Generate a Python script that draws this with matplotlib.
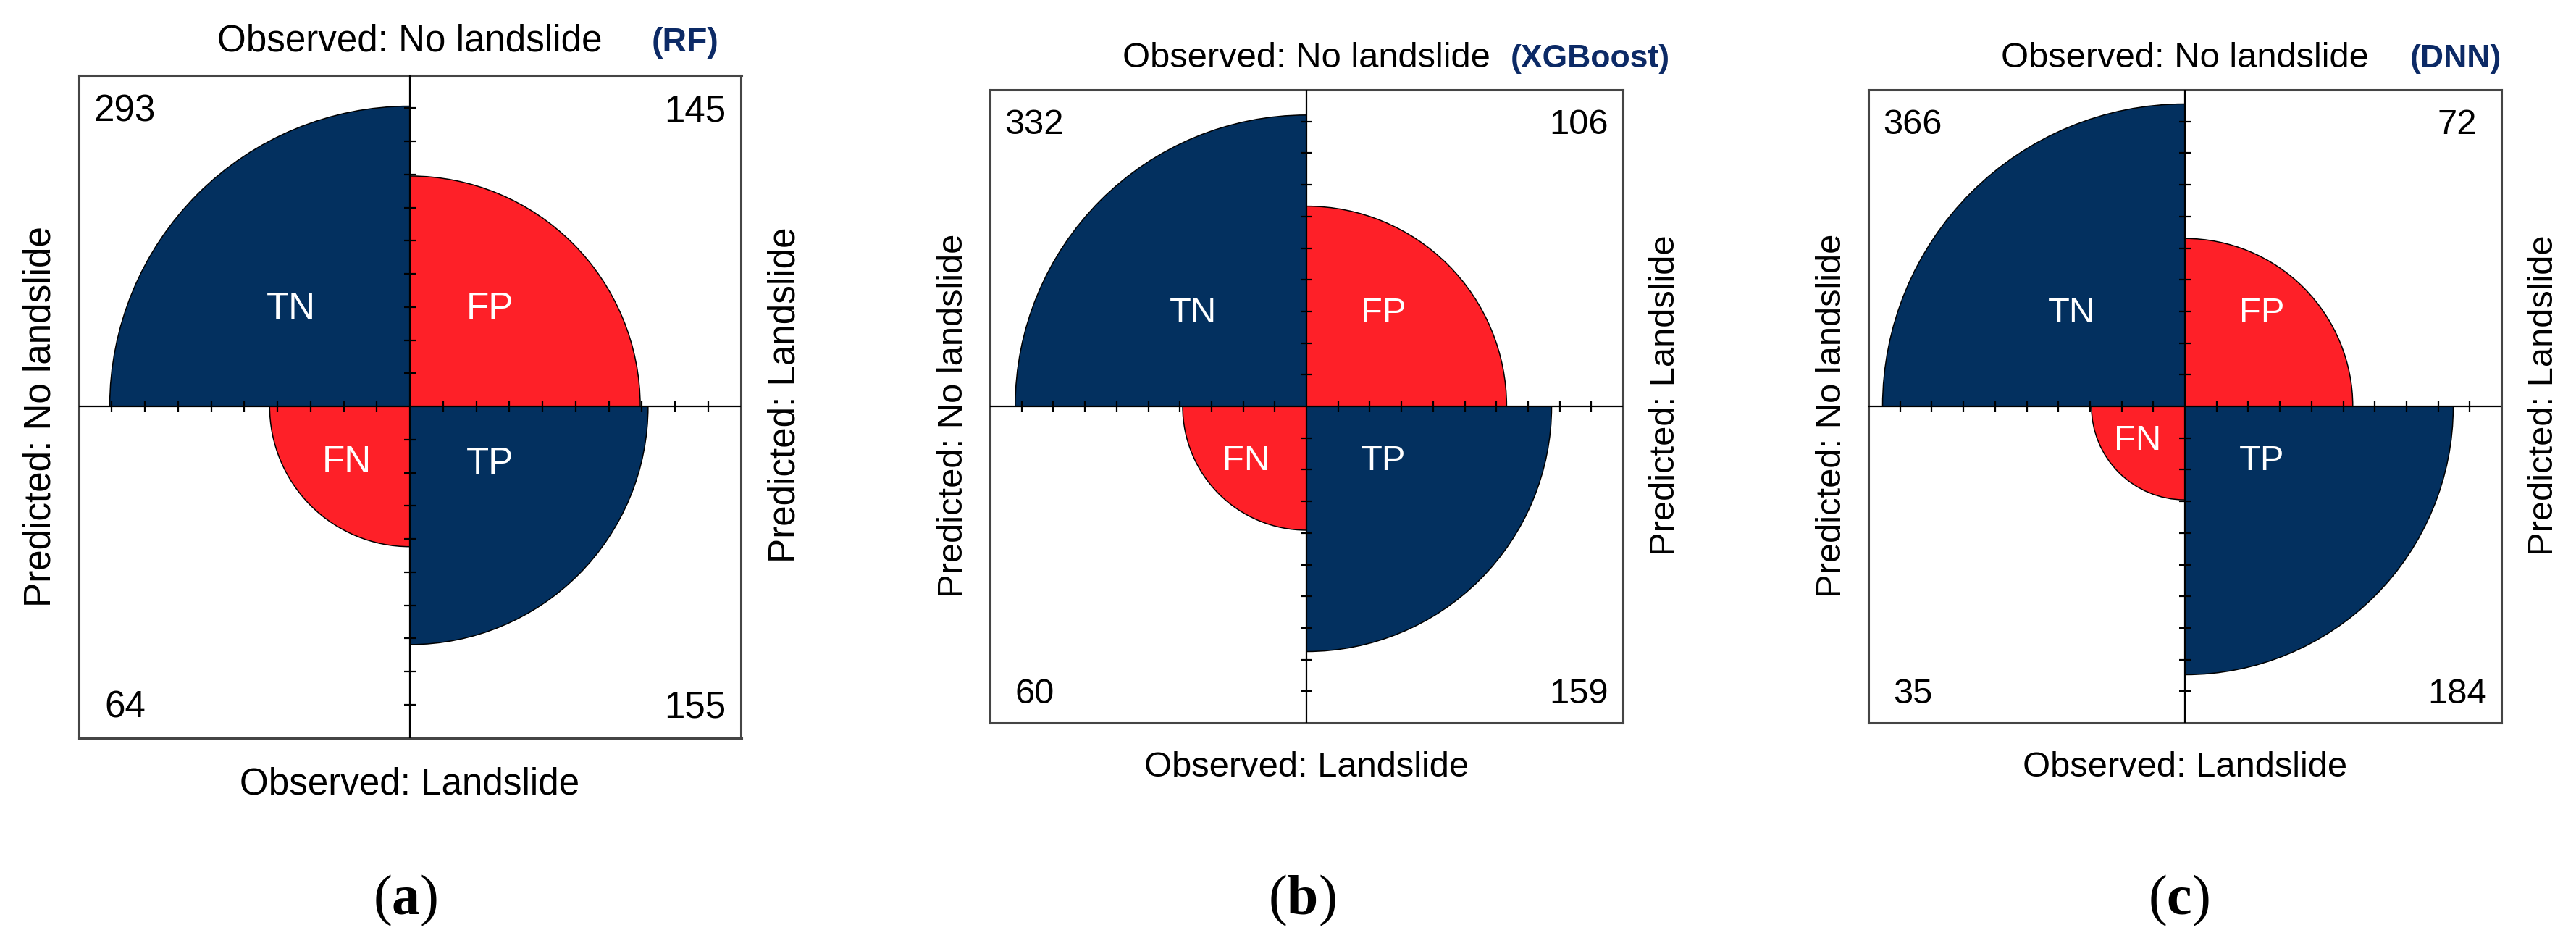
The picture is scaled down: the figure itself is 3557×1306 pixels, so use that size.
import numpy as np
import matplotlib.pyplot as plt
from matplotlib.patches import Wedge

plt.rcParams['font.family'] = ['Liberation Sans', 'DejaVu Sans']
plt.rcParams['mathtext.fontset'] = 'custom'
plt.rcParams['mathtext.rm'] = 'Liberation Serif'
plt.rcParams['mathtext.bf'] = 'Liberation Serif:bold'

# confusion matrix counts for each model
models = ["RF", "XGBoost", "DNN"]
tags = ["a", "b", "c"]
tn = [293, 332, 366]
fp = [145, 106, 72]
fn = [64, 60, 35]
tp = [155, 159, 184]

NAVY = "#03305F"
RED = "#FE2028"
TAG_BLUE = "#0C2A66"

W, H = 3557, 1306
fig = plt.figure(figsize=(W / 100, H / 100), dpi=100)

# panel box centre / half size in pixels
boxes = [(566, 561, 457.5), (1804, 561, 437), (3017, 561, 437)]
model_x = [7.3, 6.44, 7.1]
fn_pos = [(-1.9, -1.7), (-1.9, -1.73), (-1.5, -1.08)]
tag_x = [560, 1798, 3008]

k = np.arange(1, 10)
tick_pos = np.concatenate([-k, k])

for i in range(3):
    cx, cy, half = boxes[i]
    ax = fig.add_axes([(cx - half) / W, 1 - (cy + half) / H, 2 * half / W, 2 * half / H])
    ax.set_xlim(-10, 10)
    ax.set_ylim(-10, 10)
    ax.set_xticks([])
    ax.set_yticks([])
    for s in ax.spines.values():
        s.set_color("#454545")
        s.set_linewidth(2.2)
    fs = half * 0.0805

    # radius scaled within each predicted column
    left = tn[i] + fn[i]
    right = fp[i] + tp[i]
    cells = [(tn[i], left, 90, 180, NAVY), (fp[i], right, 0, 90, RED),
             (fn[i], left, 180, 270, RED), (tp[i], right, 270, 360, NAVY)]
    for n, tot, t1, t2, col in cells:
        r = 10 * np.sqrt(n / tot)
        ax.add_patch(Wedge((0, 0), r, t1, t2, facecolor=col, edgecolor="black", lw=1.1, zorder=2))

    ax.axhline(0, color="black", lw=1.6, zorder=3)
    ax.axvline(0, color="black", lw=1.6, zorder=3)
    ax.plot(tick_pos, np.zeros(len(tick_pos)), ls="none", marker="|", ms=11, mew=1.6, color="black", zorder=3)
    ax.plot(np.zeros(len(tick_pos)), tick_pos, ls="none", marker="_", ms=11, mew=1.6, color="black", zorder=3)

    # cell names
    ax.text(-3.58, 2.95, "TN", color="white", fontsize=fs, ha="center", va="center", zorder=4)
    ax.text(2.42, 2.95, "FP", color="white", fontsize=fs, ha="center", va="center", zorder=4)
    ax.text(fn_pos[i][0], fn_pos[i][1], "FN", color="white", fontsize=fs, ha="center", va="center", zorder=4)
    ax.text(2.42, -1.73, "TP", color="white", fontsize=fs, ha="center", va="center", zorder=4)

    # counts in corners
    ax.text(-8.6, 8.9, str(tn[i]), fontsize=fs, ha="center", va="center")
    ax.text(8.6, 8.9, str(fp[i]), fontsize=fs, ha="center", va="center")
    ax.text(-8.6, -9.1, str(fn[i]), fontsize=fs, ha="center", va="center")
    ax.text(8.6, -9.1, str(tp[i]), fontsize=fs, ha="center", va="center")

    ax.text(0, 10.72, "Observed: No landslide", fontsize=fs, ha="center", va="baseline")
    ax.text(model_x[i], 10.72, "(" + models[i] + ")", fontsize=fs * 0.91, fontweight="bold",
            color=TAG_BLUE, ha="left", va="baseline")
    ax.text(0, -11.7, "Observed: Landslide", fontsize=fs, ha="center", va="baseline")
    ax.text(-10.86, -0.3, "Predicted: No landslide", fontsize=fs, rotation=90,
            rotation_mode="anchor", ha="center", va="baseline")
    ax.text(11.62, 0.35, "Predicted: Landslide", fontsize=fs, rotation=90,
            rotation_mode="anchor", ha="center", va="baseline")

    fig.text(tag_x[i] / W, 1 - 1243 / H, "($\\mathbf{" + tags[i] + "}$)", fontsize=56,
             family="Liberation Serif", ha="center", va="center")

fig.savefig("out.png", dpi=100)
